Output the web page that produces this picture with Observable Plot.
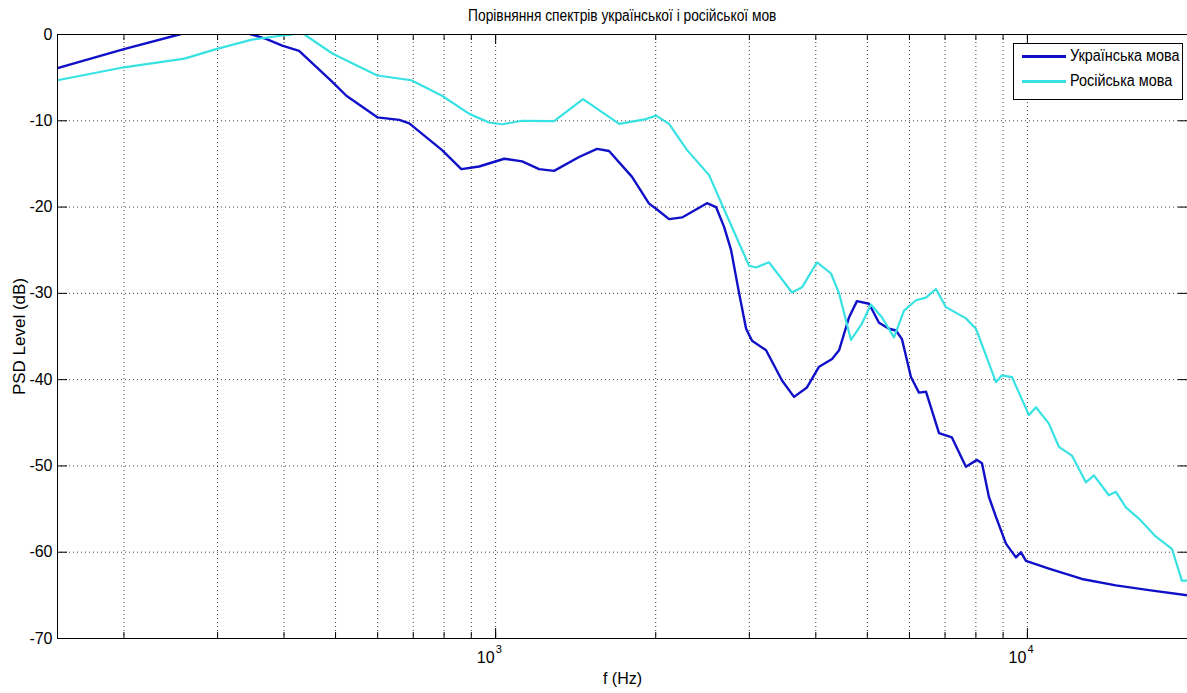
<!DOCTYPE html>
<html>
<head>
<meta charset="utf-8">
<script src="https://cdn.jsdelivr.net/npm/d3@7"></script>
<script src="https://cdn.jsdelivr.net/npm/@observablehq/plot@0.6"></script>
<style>
  html, body { margin: 0; padding: 0; background: #fff; overflow: hidden; }
  #wrap { position: relative; width: 1187px; height: 693px; font-family: "Liberation Sans", Arial, sans-serif; color: #000; }
  #title { position: absolute; left: 57px; width: 1130px; top: 6px; text-align: center; font-size: 16px; line-height: 20px; }
  #title span { display: inline-block; transform: scaleX(0.86); transform-origin: center; white-space: nowrap; }
  #legend { position: absolute; left: 1013px; top: 43px; width: 170px; height: 57px; box-sizing: border-box; border: 1px solid #000; background: #fff; font-size: 16px; }
  #legend .row { position: absolute; left: 8px; height: 20px; line-height: 20px; white-space: nowrap; }
  #legend .sw { position: absolute; left: 0; top: 9px; width: 44px; height: 0; border-top: 3px solid; }
  #legend .lab { position: absolute; left: 48px; top: 0; display: inline-block; transform: scaleX(0.9); transform-origin: left center; white-space: nowrap; }
</style>
</head>
<body>
<div id="wrap">
  <div id="chart"></div>
  <div id="title"></div>
  <div id="legend"></div>
</div>
<script>
// ---- data ----
const titleText = "Порівняння спектрів української і російської мов";
const seriesNames = ["Українська мова", "Російська мова"];
const seriesColors = ["#1010c8", "#38e2e2"];

const ukrFreq = [150, 200, 254, 296, 348, 370, 397, 427, 493, 524, 599, 659, 688, 793, 862, 931, 1038, 1122, 1207, 1288, 1435, 1551, 1634, 1805, 1943, 2003, 2119, 2242, 2497, 2597, 2689, 2772, 2870, 2958, 3035, 3225, 3456, 3640, 3850, 4057, 4292, 4424, 4618, 4780, 5036, 5259, 5491, 5660, 5808, 6039, 6252, 6446, 6820, 7211, 7662, 8038, 8214, 8466, 8726, 9112, 9515, 9723, 9936, 10976, 12660, 14667, 16922, 20000];
const ukrDb = [-3.9, -1.7, 0, 1.2, 0, -0.5, -1.3, -1.9, -5.5, -7.1, -9.6, -9.9, -10.3, -13.4, -15.6, -15.3, -14.4, -14.7, -15.6, -15.8, -14.2, -13.25, -13.5, -16.5, -19.6, -20.2, -21.4, -21.2, -19.55, -20.0, -22.3, -25, -30, -34.1, -35.5, -36.6, -40.1, -42.0, -40.9, -38.5, -37.6, -36.6, -32.8, -30.9, -31.2, -33.4, -34.1, -34.3, -35.3, -39.7, -41.5, -41.4, -46.2, -46.7, -50.1, -49.3, -49.7, -53.6, -55.9, -59.0, -60.6, -60.0, -61.0, -61.9, -63.1, -63.85, -64.4, -65.0];

const rusFreq = [150, 200, 260, 298, 348, 387, 415, 425, 437, 493, 599, 694, 793, 892, 972, 1029, 1122, 1288, 1460, 1707, 1918, 2003, 2119, 2291, 2520, 2713, 2996, 3088, 3267, 3609, 3768, 4022, 4272, 4424, 4658, 4885, 5078, 5329, 5612, 5860, 6171, 6446, 6730, 7028, 7662, 8002, 8726, 8956, 9352, 10065, 10375, 10976, 11464, 12122, 12882, 13335, 14230, 14667, 15315, 16204, 17443, 18694, 19520, 20000];
const rusDb = [-5.3, -3.8, -2.8, -1.7, -0.6, -0.2, 0, 0.3, 0, -2.2, -4.75, -5.3, -7.1, -9.2, -10.2, -10.4, -10.0, -10.05, -7.5, -10.35, -9.8, -9.4, -10.35, -13.4, -16.3, -20.8, -26.8, -27.0, -26.4, -29.9, -29.3, -26.4, -27.7, -30.0, -35.4, -33.5, -31.3, -32.8, -35.1, -32.0, -30.8, -30.5, -29.5, -31.6, -32.9, -34.1, -40.3, -39.5, -39.7, -44.1, -43.2, -45.1, -47.8, -48.8, -51.9, -51.1, -53.4, -53.0, -54.8, -56.1, -58.2, -59.6, -63.3, -63.3];

const xDomain = [150, 20000];
const yDomain = [-70, 0];
const xGridTicks = [200, 300, 400, 500, 600, 700, 800, 900, 1000, 2000, 3000, 4000, 5000, 6000, 7000, 8000, 9000, 10000];
const xMajorTicks = [1000, 10000];
const xMajorExp = ["3", "4"];
const yTicks = [-70, -60, -50, -40, -30, -20, -10, 0];
const xLabel = "f (Hz)";
const yLabel = "PSD Level (dB)";

// ---- build ----
const ukr = ukrFreq.map((f, i) => ({f, db: ukrDb[i], s: seriesNames[0]}));
const rus = rusFreq.map((f, i) => ({f, db: rusDb[i], s: seriesNames[1]}));
const majors = xMajorTicks.map((v, i) => ({v, e: xMajorExp[i]}));

const W = 1187, H = 693, mT = 34, mB = 55, mL = 57, mR = 0;
const plotH = H - mT - mB, plotW = W - mL - mR;
const grid = {stroke: "#000", strokeOpacity: 0.75, strokeDasharray: "1,3", strokeWidth: 1};

const chart = Plot.plot({
  width: W, height: H,
  marginTop: mT, marginBottom: mB, marginLeft: mL, marginRight: mR,
  style: {fontFamily: '"Liberation Sans", Arial, sans-serif', fontSize: "16px", color: "#000", background: "#fff"},
  x: {type: "log", domain: xDomain, axis: null},
  y: {domain: yDomain, axis: null},
  marks: [
    Plot.gridX(xGridTicks, grid),
    Plot.gridY(yTicks, grid),
    // inward ticks
    Plot.ruleX(xGridTicks, {x: d => d, insetTop: plotH - 6, stroke: "#000"}),
    Plot.ruleX(xMajorTicks, {x: d => d, insetTop: plotH - 10, stroke: "#000"}),
    Plot.ruleX(xGridTicks, {x: d => d, insetBottom: plotH - 6, stroke: "#000"}),
    Plot.ruleX(xMajorTicks, {x: d => d, insetBottom: plotH - 10, stroke: "#000"}),
    Plot.ruleY(yTicks, {y: d => d, insetRight: plotW - 10, stroke: "#000"}),
    Plot.ruleY(yTicks, {y: d => d, insetLeft: plotW - 9, stroke: "#000"}),
    Plot.line(ukr, {x: "f", y: "db", stroke: seriesColors[0], strokeWidth: 2.4, clip: true}),
    Plot.line(rus, {x: "f", y: "db", stroke: seriesColors[1], strokeWidth: 2.2, clip: true}),
    Plot.frame({stroke: "#000", strokeWidth: 1}),
    // y tick labels
    Plot.text(yTicks, {ariaLabel: "ytick-label", y: d => d, text: d => String(d), frameAnchor: "left", textAnchor: "end", dx: -5, fill: "#000"}),
    // x major tick labels 10^n
    Plot.text(majors, {ariaLabel: "xtick-base", x: "v", text: () => "10", frameAnchor: "bottom", textAnchor: "end", dy: 24, dx: -1, fill: "#000"}),
    Plot.text(majors, {ariaLabel: "xtick-exp", x: "v", text: "e", frameAnchor: "bottom", textAnchor: "start", dy: 14, dx: 0, fontSize: 11, fill: "#000"}),
    // axis labels
    Plot.text([xLabel], {ariaLabel: "x-label", text: d => d, frameAnchor: "bottom", textAnchor: "middle", dy: 45, fill: "#000"}),
    Plot.text([yLabel], {ariaLabel: "y-label", text: d => d, frameAnchor: "left", textAnchor: "middle", dx: -38, rotate: -90, fontSize: 17, fill: "#000"})
  ]
});
document.getElementById("chart").appendChild(chart);

// condense glyphs horizontally (the reference font is narrow)
function condense(selector, s) {
  chart.querySelectorAll(selector).forEach(t => {
    const tr = t.getAttribute("transform") || "";
    const x = +(t.getAttribute("x") || 0), y = +(t.getAttribute("y") || 0);
    t.setAttribute("transform", `${tr} translate(${x},${y}) scale(${s},1) translate(${-x},${-y})`);
  });
}
condense('g[aria-label="ytick-label"] text', 0.8);
condense('g[aria-label="xtick-base"] text', 0.8);
condense('g[aria-label="xtick-exp"] text', 0.85);
condense('g[aria-label="x-label"] text', 0.85);

const tspan = document.createElement("span");
tspan.textContent = titleText;
document.getElementById("title").appendChild(tspan);

const leg = document.getElementById("legend");
seriesNames.forEach((name, i) => {
  const row = document.createElement("div");
  row.className = "row";
  row.style.top = (2 + i * 25) + "px";
  const sw = document.createElement("span");
  sw.className = "sw";
  sw.style.borderColor = seriesColors[i];
  const lab = document.createElement("span");
  lab.className = "lab";
  lab.textContent = name;
  row.appendChild(sw);
  row.appendChild(lab);
  leg.appendChild(row);
});
</script>
</body>
</html>
